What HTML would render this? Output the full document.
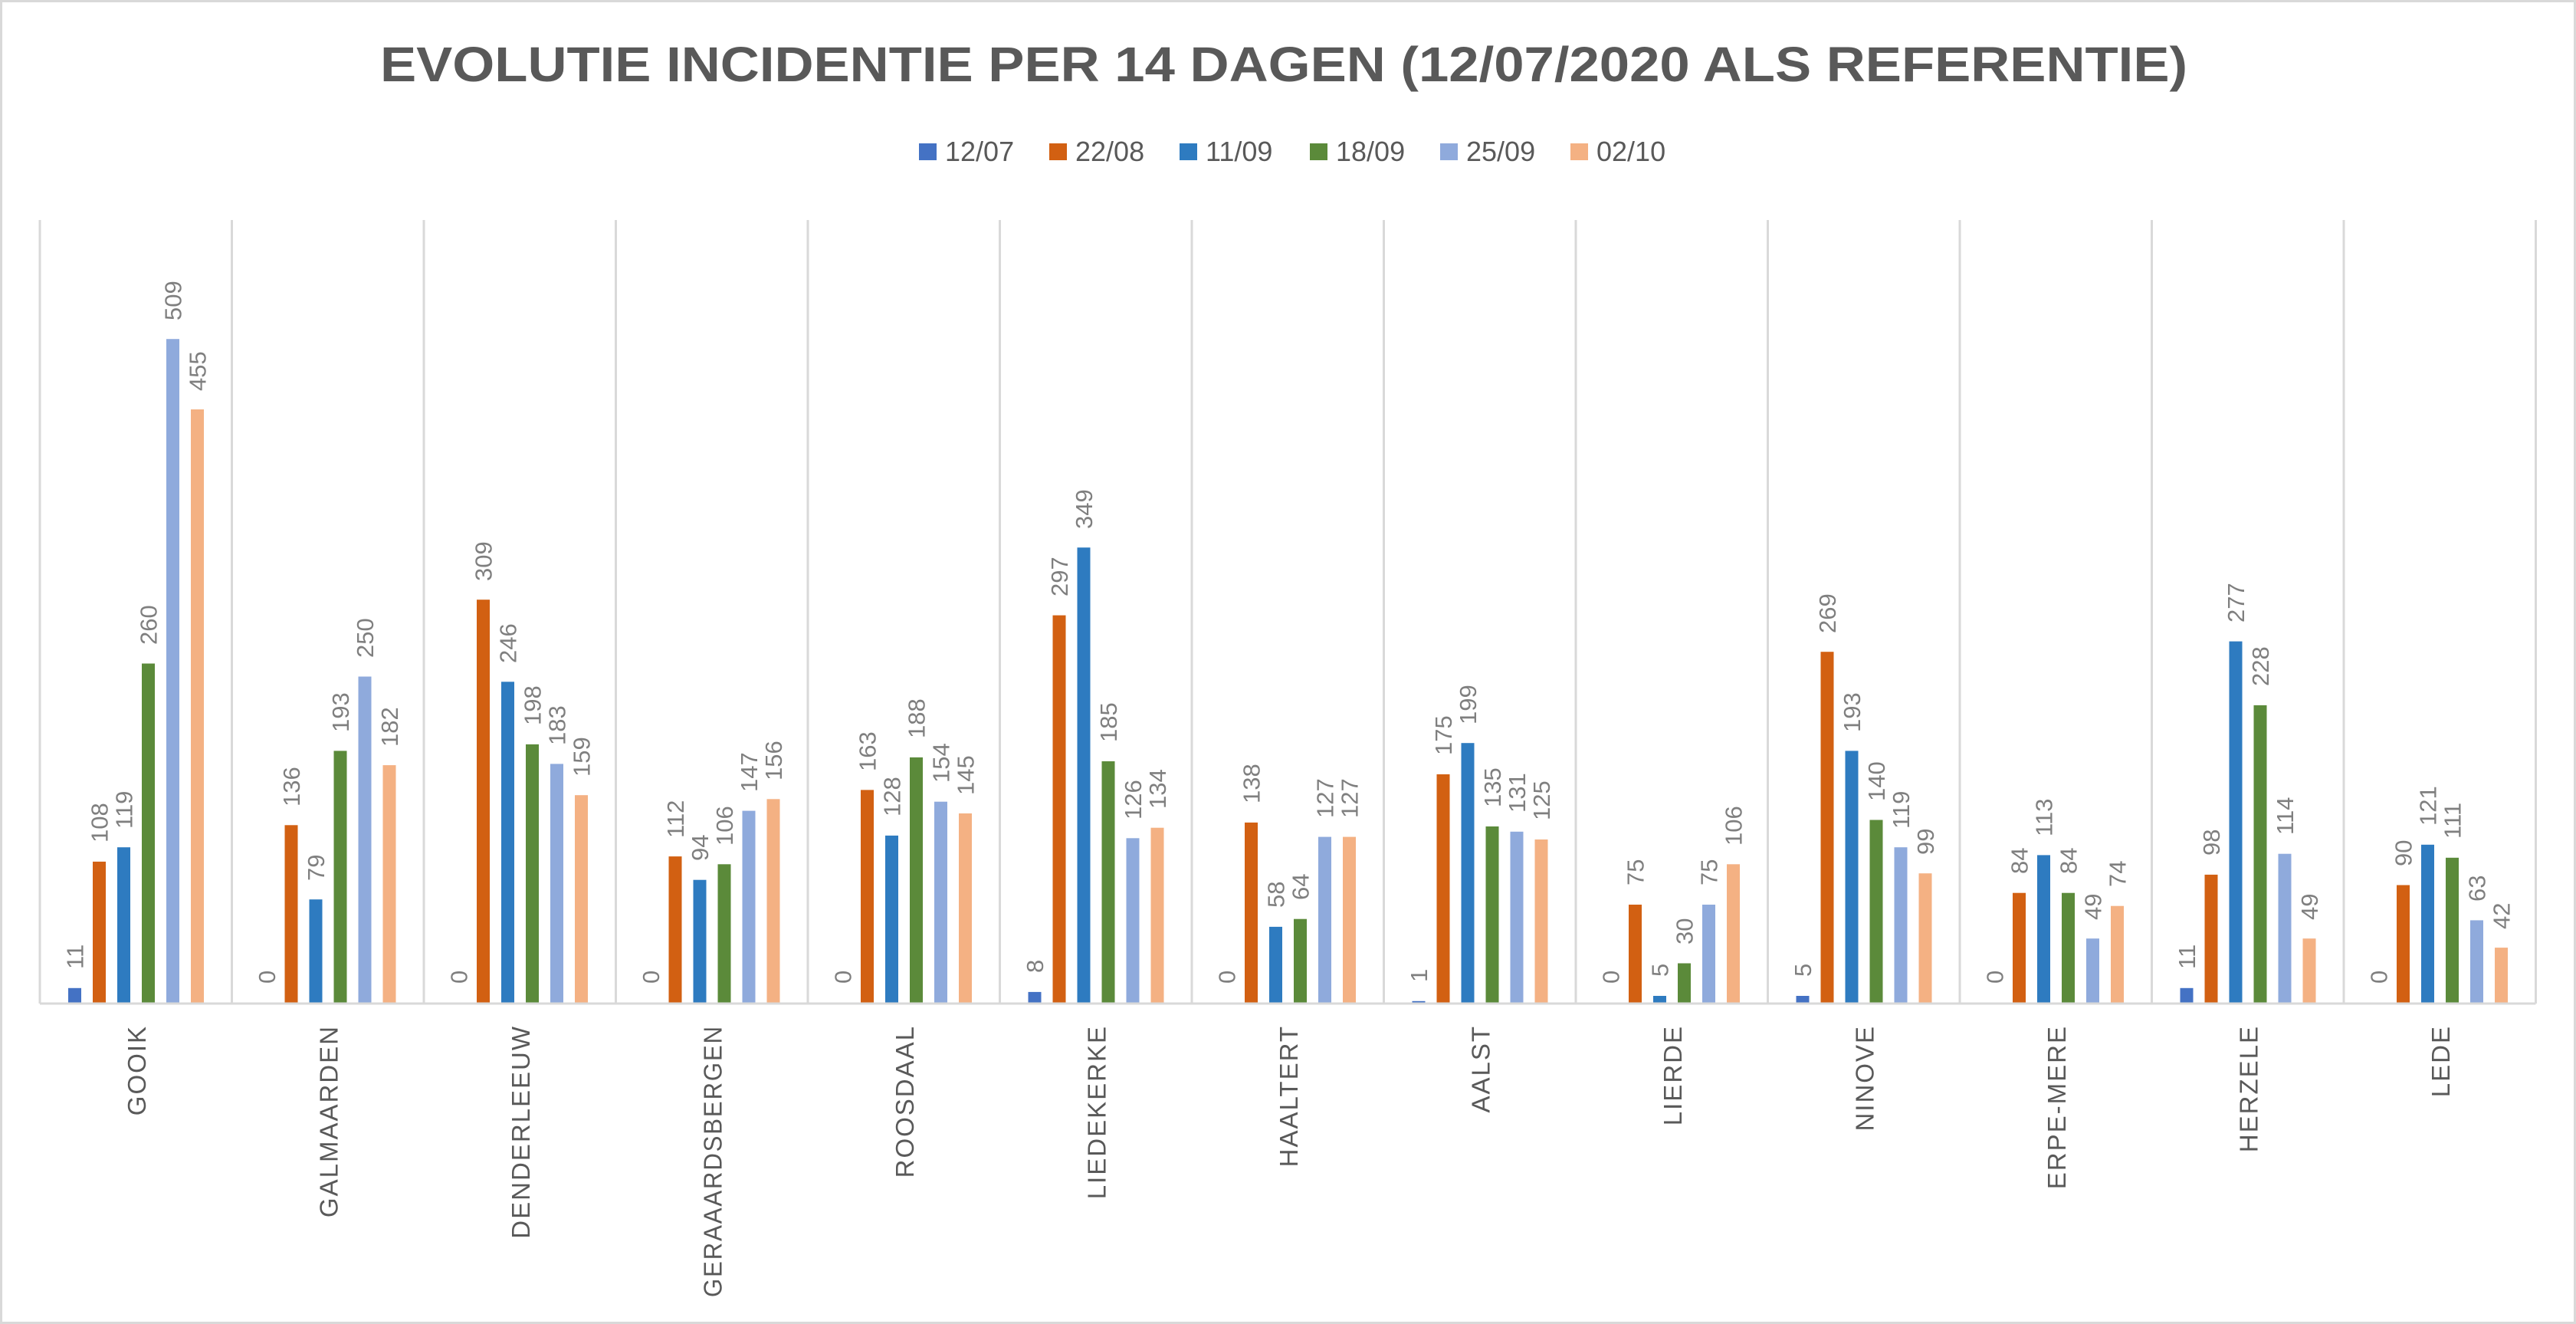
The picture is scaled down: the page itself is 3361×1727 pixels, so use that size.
<!DOCTYPE html>
<html><head><meta charset="utf-8"><style>
html,body{margin:0;padding:0;background:#fff}
svg{display:block}
.v{font-family:"Liberation Sans",sans-serif;font-size:31px;fill:#7f7f7f}
.c{font-family:"Liberation Sans",sans-serif;font-size:33px;fill:#595959;letter-spacing:2px}
</style></head><body>
<svg width="3361" height="1727" viewBox="0 0 3361 1727" xmlns="http://www.w3.org/2000/svg">
<rect x="1.5" y="1.5" width="3358" height="1724" fill="#fff" stroke="#d9d9d9" stroke-width="3"/>
<text x="1675" y="106" text-anchor="middle" font-family="Liberation Sans,sans-serif" font-weight="bold" font-size="64" fill="#595959" textLength="2358" lengthAdjust="spacingAndGlyphs">EVOLUTIE INCIDENTIE PER 14 DAGEN (12/07/2020 ALS REFERENTIE)</text>
<g font-family="Liberation Sans,sans-serif" font-size="36" fill="#595959">
<rect x="1199" y="187" width="23" height="22" fill="#4472c4"/><text x="1233" y="210">12/07</text>
<rect x="1369" y="187" width="23" height="22" fill="#d26012"/><text x="1403" y="210">22/08</text>
<rect x="1539" y="187" width="23" height="22" fill="#2e7bc0"/><text x="1573" y="210">11/09</text>
<rect x="1709" y="187" width="23" height="22" fill="#5b8a3a"/><text x="1743" y="210">18/09</text>
<rect x="1879" y="187" width="23" height="22" fill="#8faadc"/><text x="1913" y="210">25/09</text>
<rect x="2049" y="187" width="23" height="22" fill="#f4b183"/><text x="2083" y="210">02/10</text>
</g>
<g stroke="#d9d9d9" stroke-width="3">
<line x1="52" y1="287" x2="52" y2="1309"/><line x1="302.5" y1="287" x2="302.5" y2="1309"/><line x1="553" y1="287" x2="553" y2="1309"/><line x1="803.5" y1="287" x2="803.5" y2="1309"/><line x1="1054" y1="287" x2="1054" y2="1309"/><line x1="1304.5" y1="287" x2="1304.5" y2="1309"/><line x1="1555" y1="287" x2="1555" y2="1309"/><line x1="1805.5" y1="287" x2="1805.5" y2="1309"/><line x1="2056" y1="287" x2="2056" y2="1309"/><line x1="2306.5" y1="287" x2="2306.5" y2="1309"/><line x1="2557" y1="287" x2="2557" y2="1309"/><line x1="2807.5" y1="287" x2="2807.5" y2="1309"/><line x1="3058" y1="287" x2="3058" y2="1309"/><line x1="3308.5" y1="287" x2="3308.5" y2="1309"/>
<line x1="52" y1="1309" x2="3308.5" y2="1309"/>
</g>

<g transform="translate(52,1307.5) scale(1,-1.7)"><rect x="37" width="17" height="11" fill="#4472c4"/><rect x="69" width="17" height="108" fill="#d26012"/><rect x="101" width="17" height="119" fill="#2e7bc0"/><rect x="133" width="17" height="260" fill="#5b8a3a"/><rect x="165" width="17" height="509" fill="#8faadc"/><rect x="197" width="17" height="455" fill="#f4b183"/></g>
<g transform="translate(302.5,1307.5) scale(1,-1.7)"><rect x="69" width="17" height="136" fill="#d26012"/><rect x="101" width="17" height="79" fill="#2e7bc0"/><rect x="133" width="17" height="193" fill="#5b8a3a"/><rect x="165" width="17" height="250" fill="#8faadc"/><rect x="197" width="17" height="182" fill="#f4b183"/></g>
<g transform="translate(553,1307.5) scale(1,-1.7)"><rect x="69" width="17" height="309" fill="#d26012"/><rect x="101" width="17" height="246" fill="#2e7bc0"/><rect x="133" width="17" height="198" fill="#5b8a3a"/><rect x="165" width="17" height="183" fill="#8faadc"/><rect x="197" width="17" height="159" fill="#f4b183"/></g>
<g transform="translate(803.5,1307.5) scale(1,-1.7)"><rect x="69" width="17" height="112" fill="#d26012"/><rect x="101" width="17" height="94" fill="#2e7bc0"/><rect x="133" width="17" height="106" fill="#5b8a3a"/><rect x="165" width="17" height="147" fill="#8faadc"/><rect x="197" width="17" height="156" fill="#f4b183"/></g>
<g transform="translate(1054,1307.5) scale(1,-1.7)"><rect x="69" width="17" height="163" fill="#d26012"/><rect x="101" width="17" height="128" fill="#2e7bc0"/><rect x="133" width="17" height="188" fill="#5b8a3a"/><rect x="165" width="17" height="154" fill="#8faadc"/><rect x="197" width="17" height="145" fill="#f4b183"/></g>
<g transform="translate(1304.5,1307.5) scale(1,-1.7)"><rect x="37" width="17" height="8" fill="#4472c4"/><rect x="69" width="17" height="297" fill="#d26012"/><rect x="101" width="17" height="349" fill="#2e7bc0"/><rect x="133" width="17" height="185" fill="#5b8a3a"/><rect x="165" width="17" height="126" fill="#8faadc"/><rect x="197" width="17" height="134" fill="#f4b183"/></g>
<g transform="translate(1555,1307.5) scale(1,-1.7)"><rect x="69" width="17" height="138" fill="#d26012"/><rect x="101" width="17" height="58" fill="#2e7bc0"/><rect x="133" width="17" height="64" fill="#5b8a3a"/><rect x="165" width="17" height="127" fill="#8faadc"/><rect x="197" width="17" height="127" fill="#f4b183"/></g>
<g transform="translate(1805.5,1307.5) scale(1,-1.7)"><rect x="37" width="17" height="1" fill="#4472c4"/><rect x="69" width="17" height="175" fill="#d26012"/><rect x="101" width="17" height="199" fill="#2e7bc0"/><rect x="133" width="17" height="135" fill="#5b8a3a"/><rect x="165" width="17" height="131" fill="#8faadc"/><rect x="197" width="17" height="125" fill="#f4b183"/></g>
<g transform="translate(2056,1307.5) scale(1,-1.7)"><rect x="69" width="17" height="75" fill="#d26012"/><rect x="101" width="17" height="5" fill="#2e7bc0"/><rect x="133" width="17" height="30" fill="#5b8a3a"/><rect x="165" width="17" height="75" fill="#8faadc"/><rect x="197" width="17" height="106" fill="#f4b183"/></g>
<g transform="translate(2306.5,1307.5) scale(1,-1.7)"><rect x="37" width="17" height="5" fill="#4472c4"/><rect x="69" width="17" height="269" fill="#d26012"/><rect x="101" width="17" height="193" fill="#2e7bc0"/><rect x="133" width="17" height="140" fill="#5b8a3a"/><rect x="165" width="17" height="119" fill="#8faadc"/><rect x="197" width="17" height="99" fill="#f4b183"/></g>
<g transform="translate(2557,1307.5) scale(1,-1.7)"><rect x="69" width="17" height="84" fill="#d26012"/><rect x="101" width="17" height="113" fill="#2e7bc0"/><rect x="133" width="17" height="84" fill="#5b8a3a"/><rect x="165" width="17" height="49" fill="#8faadc"/><rect x="197" width="17" height="74" fill="#f4b183"/></g>
<g transform="translate(2807.5,1307.5) scale(1,-1.7)"><rect x="37" width="17" height="11" fill="#4472c4"/><rect x="69" width="17" height="98" fill="#d26012"/><rect x="101" width="17" height="277" fill="#2e7bc0"/><rect x="133" width="17" height="228" fill="#5b8a3a"/><rect x="165" width="17" height="114" fill="#8faadc"/><rect x="197" width="17" height="49" fill="#f4b183"/></g>
<g transform="translate(3058,1307.5) scale(1,-1.7)"><rect x="69" width="17" height="90" fill="#d26012"/><rect x="101" width="17" height="121" fill="#2e7bc0"/><rect x="133" width="17" height="111" fill="#5b8a3a"/><rect x="165" width="17" height="63" fill="#8faadc"/><rect x="197" width="17" height="42" fill="#f4b183"/></g>

<g class="v">
<g transform="translate(52,0)"><text transform="translate(56.5,1264) rotate(-90)">11</text><text transform="translate(88.5,1099) rotate(-90)">108</text><text transform="translate(120.5,1081) rotate(-90)">119</text><text transform="translate(152.5,841) rotate(-90)">260</text><text transform="translate(184.5,418) rotate(-90)">509</text><text transform="translate(216.5,510) rotate(-90)">455</text></g>
<g transform="translate(302.5,0)"><text transform="translate(56.5,1283) rotate(-90)">0</text><text transform="translate(88.5,1052) rotate(-90)">136</text><text transform="translate(120.5,1149) rotate(-90)">79</text><text transform="translate(152.5,955) rotate(-90)">193</text><text transform="translate(184.5,858) rotate(-90)">250</text><text transform="translate(216.5,974) rotate(-90)">182</text></g>
<g transform="translate(553,0)"><text transform="translate(56.5,1283) rotate(-90)">0</text><text transform="translate(88.5,758) rotate(-90)">309</text><text transform="translate(120.5,865) rotate(-90)">246</text><text transform="translate(152.5,946) rotate(-90)">198</text><text transform="translate(184.5,972) rotate(-90)">183</text><text transform="translate(216.5,1013) rotate(-90)">159</text></g>
<g transform="translate(803.5,0)"><text transform="translate(56.5,1283) rotate(-90)">0</text><text transform="translate(88.5,1093) rotate(-90)">112</text><text transform="translate(120.5,1123) rotate(-90)">94</text><text transform="translate(152.5,1103) rotate(-90)">106</text><text transform="translate(184.5,1033) rotate(-90)">147</text><text transform="translate(216.5,1018) rotate(-90)">156</text></g>
<g transform="translate(1054,0)"><text transform="translate(56.5,1283) rotate(-90)">0</text><text transform="translate(88.5,1006) rotate(-90)">163</text><text transform="translate(120.5,1065) rotate(-90)">128</text><text transform="translate(152.5,963) rotate(-90)">188</text><text transform="translate(184.5,1021) rotate(-90)">154</text><text transform="translate(216.5,1037) rotate(-90)">145</text></g>
<g transform="translate(1304.5,0)"><text transform="translate(56.5,1269) rotate(-90)">8</text><text transform="translate(88.5,778) rotate(-90)">297</text><text transform="translate(120.5,690) rotate(-90)">349</text><text transform="translate(152.5,968) rotate(-90)">185</text><text transform="translate(184.5,1069) rotate(-90)">126</text><text transform="translate(216.5,1055) rotate(-90)">134</text></g>
<g transform="translate(1555,0)"><text transform="translate(56.5,1283) rotate(-90)">0</text><text transform="translate(88.5,1048) rotate(-90)">138</text><text transform="translate(120.5,1184) rotate(-90)">58</text><text transform="translate(152.5,1174) rotate(-90)">64</text><text transform="translate(184.5,1067) rotate(-90)">127</text><text transform="translate(216.5,1067) rotate(-90)">127</text></g>
<g transform="translate(1805.5,0)"><text transform="translate(56.5,1281) rotate(-90)">1</text><text transform="translate(88.5,985) rotate(-90)">175</text><text transform="translate(120.5,945) rotate(-90)">199</text><text transform="translate(152.5,1053) rotate(-90)">135</text><text transform="translate(184.5,1060) rotate(-90)">131</text><text transform="translate(216.5,1070) rotate(-90)">125</text></g>
<g transform="translate(2056,0)"><text transform="translate(56.5,1283) rotate(-90)">0</text><text transform="translate(88.5,1155) rotate(-90)">75</text><text transform="translate(120.5,1274) rotate(-90)">5</text><text transform="translate(152.5,1232) rotate(-90)">30</text><text transform="translate(184.5,1155) rotate(-90)">75</text><text transform="translate(216.5,1103) rotate(-90)">106</text></g>
<g transform="translate(2306.5,0)"><text transform="translate(56.5,1274) rotate(-90)">5</text><text transform="translate(88.5,826) rotate(-90)">269</text><text transform="translate(120.5,955) rotate(-90)">193</text><text transform="translate(152.5,1045) rotate(-90)">140</text><text transform="translate(184.5,1081) rotate(-90)">119</text><text transform="translate(216.5,1115) rotate(-90)">99</text></g>
<g transform="translate(2557,0)"><text transform="translate(56.5,1283) rotate(-90)">0</text><text transform="translate(88.5,1140) rotate(-90)">84</text><text transform="translate(120.5,1091) rotate(-90)">113</text><text transform="translate(152.5,1140) rotate(-90)">84</text><text transform="translate(184.5,1200) rotate(-90)">49</text><text transform="translate(216.5,1157) rotate(-90)">74</text></g>
<g transform="translate(2807.5,0)"><text transform="translate(56.5,1264) rotate(-90)">11</text><text transform="translate(88.5,1116) rotate(-90)">98</text><text transform="translate(120.5,812) rotate(-90)">277</text><text transform="translate(152.5,895) rotate(-90)">228</text><text transform="translate(184.5,1089) rotate(-90)">114</text><text transform="translate(216.5,1200) rotate(-90)">49</text></g>
<g transform="translate(3058,0)"><text transform="translate(56.5,1283) rotate(-90)">0</text><text transform="translate(88.5,1130) rotate(-90)">90</text><text transform="translate(120.5,1077) rotate(-90)">121</text><text transform="translate(152.5,1094) rotate(-90)">111</text><text transform="translate(184.5,1176) rotate(-90)">63</text><text transform="translate(216.5,1212) rotate(-90)">42</text></g>
</g>

<g class="c" text-anchor="end">
<text transform="translate(190,1337) rotate(-90)">GOOIK</text>
<text transform="translate(440.5,1337) rotate(-90)">GALMAARDEN</text>
<text transform="translate(691,1337) rotate(-90)">DENDERLEEUW</text>
<text transform="translate(941.5,1337) rotate(-90)" textLength="355" lengthAdjust="spacingAndGlyphs">GERAAARDSBERGEN</text>
<text transform="translate(1192,1337) rotate(-90)">ROOSDAAL</text>
<text transform="translate(1442.5,1337) rotate(-90)">LIEDEKERKE</text>
<text transform="translate(1693,1337) rotate(-90)">HAALTERT</text>
<text transform="translate(1943.5,1337) rotate(-90)">AALST</text>
<text transform="translate(2194,1337) rotate(-90)">LIERDE</text>
<text transform="translate(2444.5,1337) rotate(-90)">NINOVE</text>
<text transform="translate(2695,1337) rotate(-90)">ERPE-MERE</text>
<text transform="translate(2945.5,1337) rotate(-90)">HERZELE</text>
<text transform="translate(3196,1337) rotate(-90)">LEDE</text>
</g>
</svg>
</body></html>
